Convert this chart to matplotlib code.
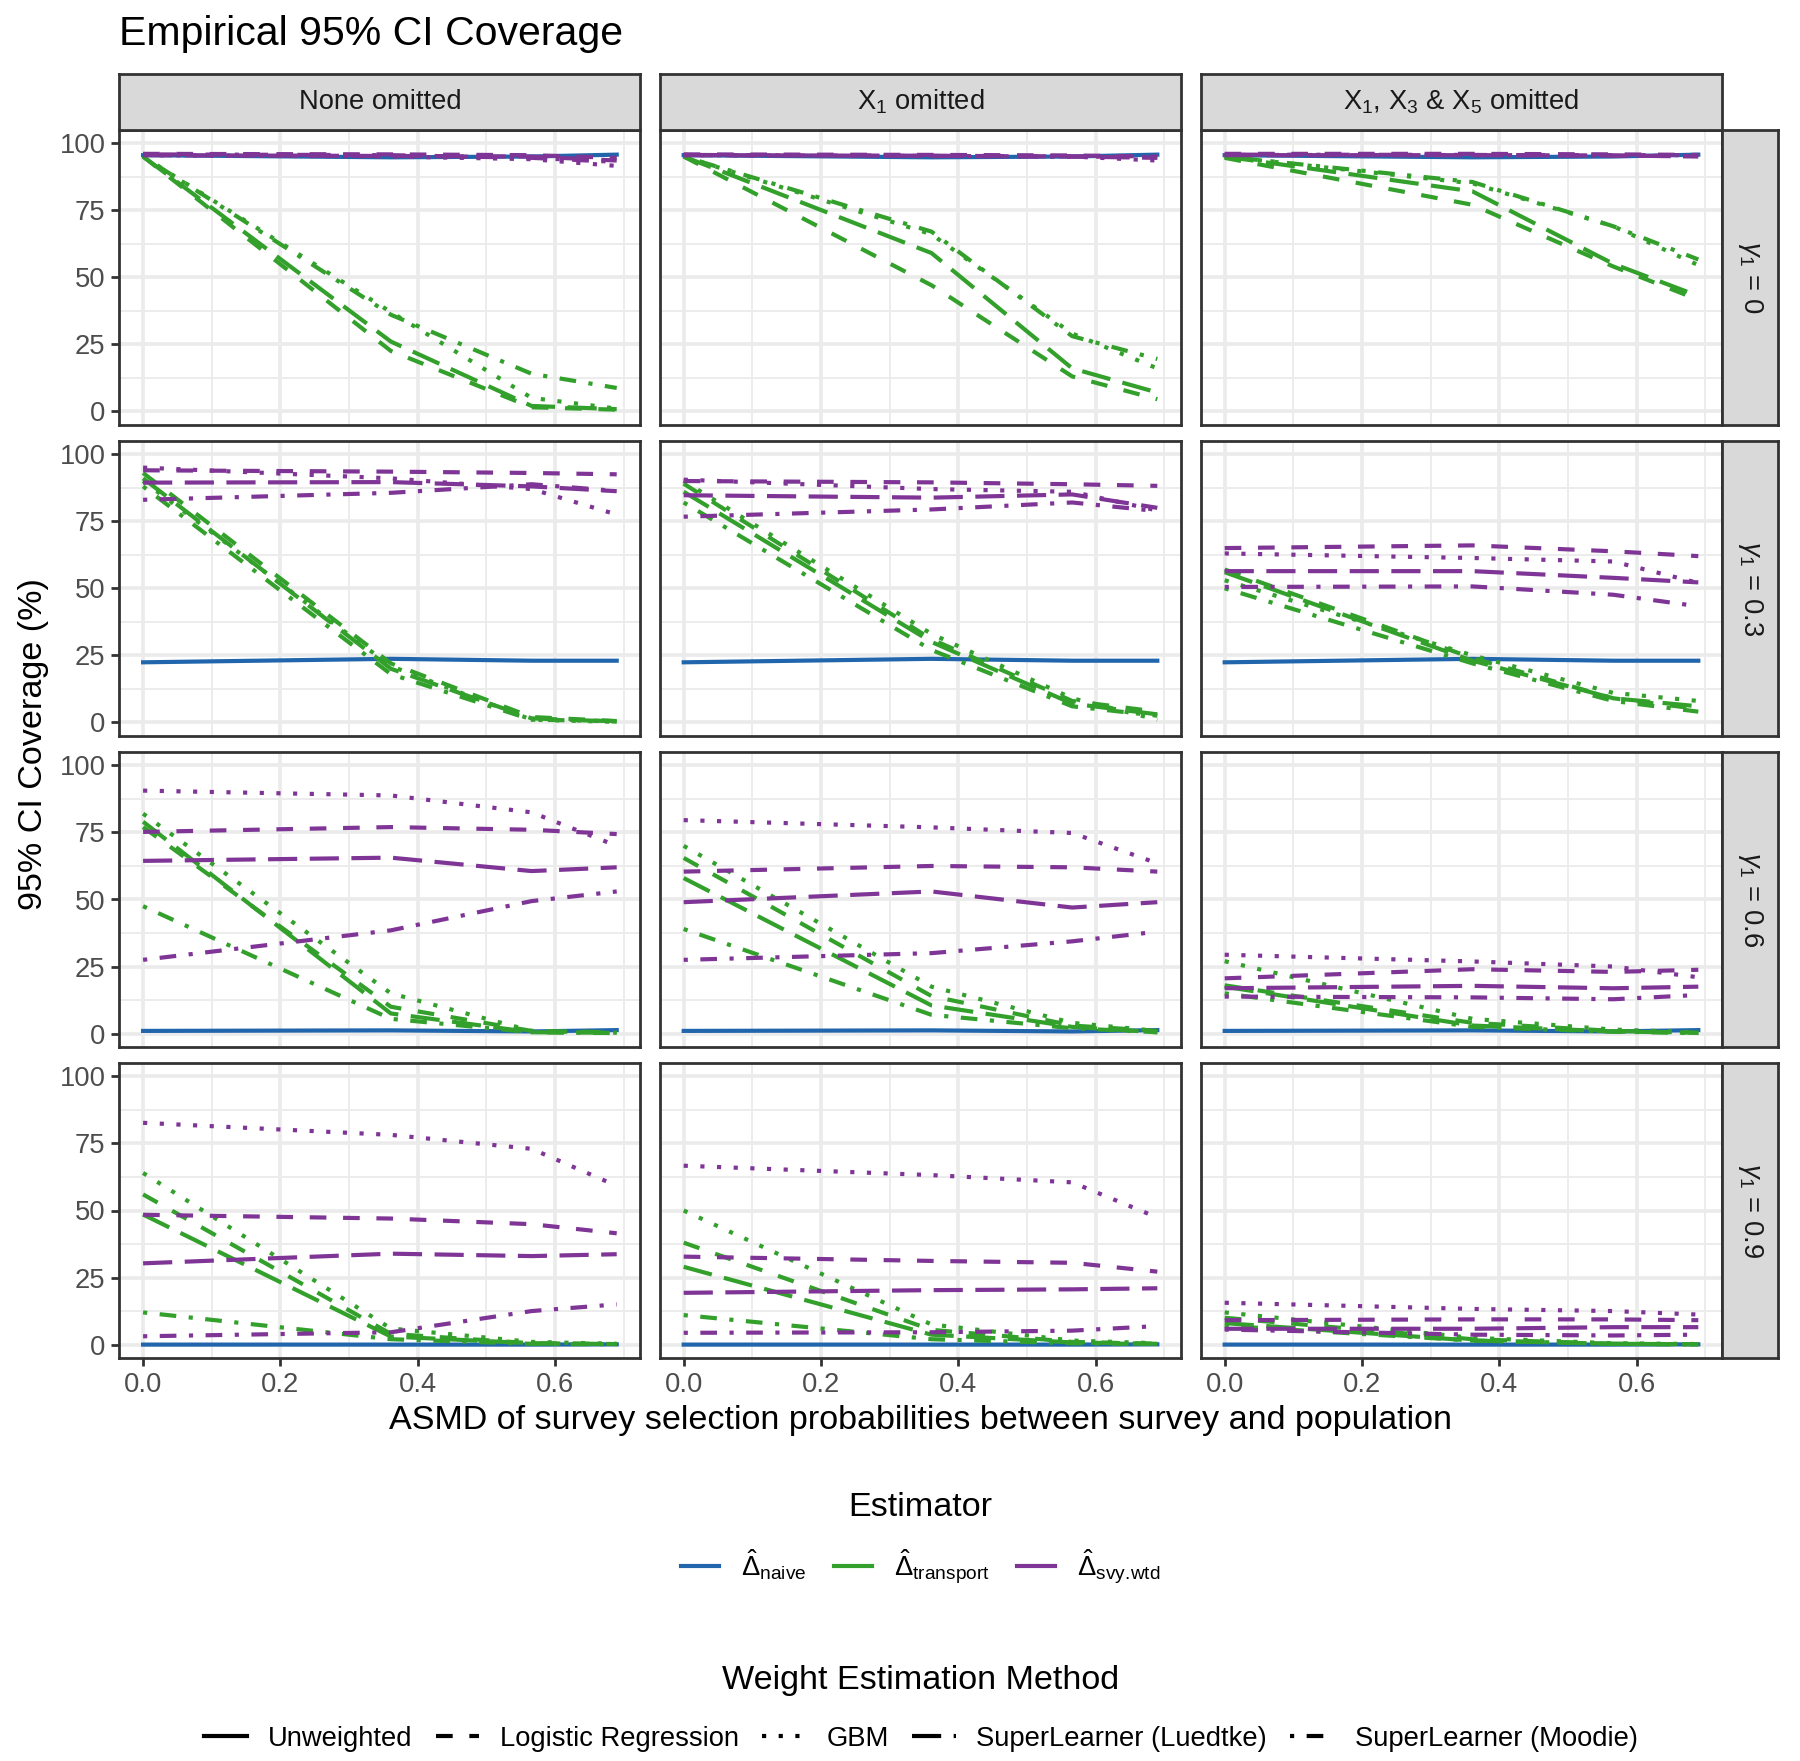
import matplotlib
matplotlib.use('Agg')
import matplotlib.pyplot as plt
from matplotlib.lines import Line2D

plt.rcParams['font.family'] = ['Liberation Sans', 'DejaVu Sans']
plt.rcParams['mathtext.fontset'] = 'custom'
plt.rcParams['mathtext.rm'] = 'Liberation Sans'
plt.rcParams['mathtext.it'] = 'Liberation Sans:italic'

# x: ASMD values of the 4 simulation scenarios
asmd = [0.0, 0.361, 0.566, 0.69]

omit_labels = ['None omitted', r'X$_1$ omitted', r'X$_1$, X$_3$ & X$_5$ omitted']
gamma_labels = [r'$\gamma_1$ = 0', r'$\gamma_1$ = 0.3', r'$\gamma_1$ = 0.6', r'$\gamma_1$ = 0.9']

# coverage (%) -- [row gamma][col omitted][asmd]
naive = [
    [[95.5, 94.7, 95.0, 95.7]] * 3,
    [[22.4, 23.7, 23.0, 23.0]] * 3,
    [[1.0, 1.2, 0.8, 1.3]] * 3,
    [[0.0, 0.0, 0.0, 0.1]] * 3,
]

tr_logit = [
    [[95, 22.5, 1.5, 0.6], [95, 47, 13, 4.5], [94.5, 77, 54, 41.6]],
    [[93, 22, 2, 0.5], [89, 31, 8, 4], [57, 24, 9, 5]],
    [[77, 10, 1, 0.5], [65.5, 14, 3, 1], [18, 4, 1, 0.3]],
    [[56, 4, 0.5, 0.2], [38, 5.5, 1, 0.3], [10, 2, 0.3, 0.1]],
]
tr_gbm = [
    [[95, 37, 5, 1], [95, 66, 29, 16], [95, 85, 69, 54.5]],
    [[90, 21, 1, 0.2], [90, 33, 9, 1], [53, 25, 11, 8]],
    [[82, 15, 1, 0.3], [70, 17.5, 4, 1], [27, 5.5, 1.5, 0.5]],
    [[64, 6, 1, 0.3], [50, 7.5, 1.5, 0.5], [12, 2.5, 0.5, 0.2]],
]
tr_sl_luedtke = [
    [[95, 26, 2, 0.8], [95, 59, 16, 7], [95, 82, 55, 43]],
    [[91, 20, 1.5, 0.3], [86, 30, 7, 3], [56, 23, 9, 6]],
    [[79, 7.5, 0.5, 0.3], [58, 10.5, 2.5, 0.5], [17.5, 3, 0.8, 0.3]],
    [[48.5, 3, 0.5, 0.2], [29, 3.7, 0.8, 0.3], [8, 1.5, 0.3, 0.1]],
]
tr_sl_moodie = [
    [[95, 36, 14, 8.7], [95, 67, 28, 19.5], [95, 85.5, 69, 56.6]],
    [[88, 18, 1, 0.5], [82, 27, 6, 2.5], [50, 22, 8, 4]],
    [[47.5, 5.5, 0.5, 0.2], [39, 7, 2, 0.5], [15, 2.5, 0.7, 0.2]],
    [[12, 2, 0.3, 0.1], [11, 2, 0.5, 0.2], [7, 1.5, 0.3, 0.1]],
]

svy_logit = [
    [[96, 95.8, 95.5, 94.5], [95.8, 95.6, 95.4, 95], [96, 96, 95.8, 95.6]],
    [[94, 93.5, 93, 92.5], [90, 89.5, 88.8, 88.2], [65, 66, 63.8, 62]],
    [[75.2, 77, 76, 74.4], [60.4, 62.5, 62, 60.4], [20.6, 24, 23, 23.8]],
    [[48.4, 47, 44.9, 41.5], [32.8, 31.2, 30.5, 27.2], [9.1, 9.4, 9.4, 9.1]],
]
svy_gbm = [
    [[95.5, 95, 94, 91.5], [95.5, 95.2, 95, 93.5], [95.6, 95.5, 95.5, 95.5]],
    [[95, 91, 87, 77.5], [90.5, 87, 86, 79], [63, 61.3, 60, 52]],
    [[90.6, 88.8, 82.5, 70], [79.6, 76.9, 74.8, 63.5], [29.4, 26.9, 25, 21]],
    [[82.7, 78.2, 73, 59.2], [66.7, 63.2, 60.5, 47.4], [15.6, 13.3, 12.5, 11.2]],
]
svy_sl_luedtke = [
    [[95.5, 95.2, 95, 93.5], [95.5, 95.3, 95, 94.5], [95.5, 95.5, 95.4, 95]],
    [[89.4, 89.6, 88, 86.2], [84.7, 83.8, 85, 80], [56.4, 56.4, 53.9, 52.2]],
    [[64.4, 65.6, 60.6, 62], [49, 53, 47, 49], [16.9, 17.8, 16.9, 17.5]],
    [[30.3, 33.9, 33, 33.7], [19.3, 20.3, 20.6, 21], [5.9, 5.9, 6.5, 6.5]],
]
svy_sl_moodie = [
    [[95.8, 95.5, 94.5, 93], [95.6, 95.2, 95, 94.8], [95.7, 95.6, 95.3, 95.2]],
    [[83, 85.6, 88.8, 86.3], [76.7, 79.4, 82, 78.8], [50.5, 50.7, 47.6, 43.3]],
    [[27.5, 38.5, 49.4, 53], [27.5, 30, 34.4, 38], [13.8, 13.5, 12.8, 14.4]],
    [[3.1, 4.6, 12.5, 15], [4.4, 4.6, 5.2, 6.9], [5.6, 3.7, 3.4, 3.7]],
]

# stile
col_naive, col_tr, col_svy = '#2166AC', '#33A02C', '#7F3596'
ls_solid = '-'
ls_dash = (0, (4, 4))
ls_dot = (0, (1, 3))
ls_long = (0, (7, 3))
ls_dotdash = (0, (1, 3, 4, 3))

series = [
    (naive, col_naive, ls_solid),
    (tr_logit, col_tr, ls_dash), (tr_gbm, col_tr, ls_dot),
    (tr_sl_luedtke, col_tr, ls_long), (tr_sl_moodie, col_tr, ls_dotdash),
    (svy_logit, col_svy, ls_dash), (svy_gbm, col_svy, ls_dot),
    (svy_sl_luedtke, col_svy, ls_long), (svy_sl_moodie, col_svy, ls_dotdash),
]

W, H = 1800, 1761
fig = plt.figure(figsize=(W / 100, H / 100), dpi=100)

lefts = [119.4, 660.0, 1201.0]
tops = [129.7, 440.8, 752.0, 1063.0]
pw, ph = 521.0, 295.0
strip = 56.0
lw = 3.0
fs_axis = 19.7
fs_title = 24.6

for r in range(4):
    for c in range(3):
        l, t = lefts[c], tops[r]
        ax = fig.add_axes([l / W, 1 - (t + ph) / H, pw / W, ph / H])
        for data, color, ls in series:
            ax.plot(asmd, data[r][c], color=color, linestyle=ls, linewidth=lw)
        ax.set_xlim(-0.0345, 0.7245)
        ax.set_ylim(-5, 105)
        ax.set_xticks([0, 0.2, 0.4, 0.6])
        ax.set_xticks([0.1, 0.3, 0.5, 0.7], minor=True)
        ax.set_yticks([0, 25, 50, 75, 100])
        ax.set_yticks([12.5, 37.5, 62.5, 87.5], minor=True)
        ax.grid(which='major', color='#EBEBEB', linewidth=2.6)
        ax.grid(which='minor', color='#EBEBEB', linewidth=1.3)
        ax.set_axisbelow(True)
        for sp in ax.spines.values():
            sp.set_color('#333333')
            sp.set_linewidth(2.0)
        ax.tick_params(which='minor', length=0)
        ax.tick_params(which='major', length=6, width=2, color='#333333',
                       labelsize=fs_axis, labelcolor='#4D4D4D', pad=4)
        if c == 0:
            ax.set_yticklabels(['0', '25', '50', '75', '100'])
        else:
            ax.tick_params(axis='y', length=0, labelleft=False)
        if r == 3:
            ax.set_xticklabels(['0.0', '0.2', '0.4', '0.6'])
        else:
            ax.tick_params(axis='x', length=0, labelbottom=False)

        if r == 0:
            sx = fig.add_axes([l / W, 1 - t / H, pw / W, strip / H])
            sx.set_facecolor('#D9D9D9')
            sx.set_xticks([])
            sx.set_yticks([])
            for sp in sx.spines.values():
                sp.set_color('#333333')
                sp.set_linewidth(2.0)
            sx.text(0.5, 0.5, omit_labels[c], ha='center', va='center',
                    fontsize=fs_axis, color='#1A1A1A', transform=sx.transAxes)
        if c == 2:
            sx = fig.add_axes([(l + pw) / W, 1 - (t + ph) / H, strip / W, ph / H])
            sx.set_facecolor('#D9D9D9')
            sx.set_xticks([])
            sx.set_yticks([])
            for sp in sx.spines.values():
                sp.set_color('#333333')
                sp.set_linewidth(2.0)
            sx.text(0.5, 0.5, gamma_labels[r], ha='center', va='center', rotation=270,
                    fontsize=fs_axis, color='#1A1A1A', transform=sx.transAxes)

cx = (lefts[0] + lefts[2] + pw) / 2 / W
fig.text(lefts[0] / W, 1 - 34 / H, 'Empirical 95% CI Coverage', ha='left', va='center',
         fontsize=29.5)
fig.text(cx, 1 - 1421 / H, 'ASMD of survey selection probabilities between survey and population',
         ha='center', va='center', fontsize=fs_title)
fig.text(34 / W, 1 - 744 / H, '95% CI Coverage (%)', ha='center', va='center',
         rotation=90, fontsize=fs_title)

# legende
fig.text(cx, 1 - 1507 / H, 'Estimator', ha='center', va='center', fontsize=fs_title)
est_handles = [Line2D([], [], color=col_naive, linewidth=lw),
               Line2D([], [], color=col_tr, linewidth=lw),
               Line2D([], [], color=col_svy, linewidth=lw)]
est_labels = [r'$\hat{\Delta}_{\mathrm{naive}}$', r'$\hat{\Delta}_{\mathrm{transport}}$',
              r'$\hat{\Delta}_{\mathrm{svy.\!wtd}}$']
fig.legend(est_handles, est_labels, loc='center', bbox_to_anchor=(cx, 1 - 1567 / H), ncol=3,
           frameon=False, fontsize=fs_axis, handlelength=1.4, handletextpad=0.8,
           columnspacing=1.0)

fig.text(cx, 1 - 1680 / H, 'Weight Estimation Method', ha='center', va='center', fontsize=fs_title)
wem_styles = [ls_solid, ls_dash, ls_dot, ls_long, ls_dotdash]
wem_labels = ['Unweighted', 'Logistic Regression', 'GBM', 'SuperLearner (Luedtke)',
              'SuperLearner (Moodie)']
wem_handles = [Line2D([], [], color='black', linestyle=s, linewidth=lw) for s in wem_styles]
fig.legend(wem_handles, wem_labels, loc='center', bbox_to_anchor=(cx, 1 - 1739 / H), ncol=5,
           frameon=False, fontsize=fs_axis, handlelength=1.6, handletextpad=0.75,
           columnspacing=0.85)

fig.savefig('out.png', dpi=100)
